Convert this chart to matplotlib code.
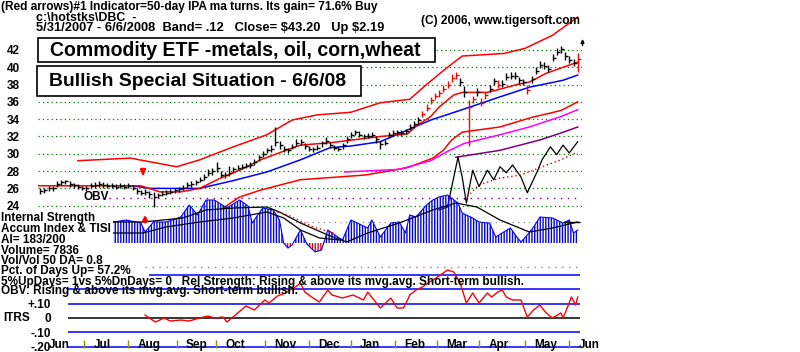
import numpy as np
import pandas as pd
import matplotlib
matplotlib.use('Agg')
import matplotlib.pyplot as plt
from matplotlib.patches import Rectangle

plt.rcParams['hatch.linewidth'] = 1.0
FONT = 'Liberation Sans'

# trading calendar 5/31/2007 - 6/6/2008
holidays = ['2007-07-04', '2007-09-03', '2007-11-22', '2007-12-25', '2008-01-01',
            '2008-01-21', '2008-02-18', '2008-03-21', '2008-05-26']
dates = pd.bdate_range('2007-05-31', '2008-06-06', freq='C', holidays=holidays)

# daily bars, every 2nd trading day (index 1,3,...,257)
bar_day = np.arange(1, 258, 2)
close = [25.7, 25.8, 26.0, 26.0, 26.5, 26.7, 26.8, 26.5, 26.4, 26.2,
         26.1, 26.0, 26.3, 26.4, 26.5, 26.4, 26.3, 26.3, 26.2, 26.3,
         26.2, 26.3, 26.1, 25.7, 25.5, 25.6, 25.3, 25.0, 25.2, 25.4,
         25.5, 25.6, 25.8, 25.9, 26.1, 26.4, 26.5, 26.7, 27.0, 27.3,
         27.8, 28.0, 28.3, 27.6, 27.5, 27.8, 28.2, 28.4, 28.5, 28.6,
         28.7, 29.0, 29.6, 30.0, 30.4, 30.6, 31.4, 31.0, 30.5, 30.4,
         30.8, 31.3, 31.4, 30.9, 30.6, 30.5, 30.7, 31.2, 31.5, 31.0,
         30.7, 30.6, 31.0, 31.7, 32.2, 32.5, 32.2, 32.0, 32.1, 32.2,
         31.7, 31.1, 31.3, 32.2, 32.4, 32.5, 32.4, 32.6, 33.1, 33.4,
         33.9, 34.6, 35.3, 36.2, 36.7, 37.0, 37.5, 38.0, 38.8, 39.1,
         38.3, 37.2, 35.4, 36.3, 37.2, 35.9, 36.8, 37.5, 38.4, 38.0,
         38.1, 38.9, 39.0, 39.0, 38.5, 38.3, 37.4, 38.6, 39.6, 40.3,
         40.2, 39.8, 41.1, 41.8, 42.1, 41.3, 40.9, 40.5, 41.0]
high = [26.0, 26.1, 26.3, 26.3, 26.8, 27.0, 27.0, 26.8, 26.6, 26.5,
        26.3, 26.3, 26.6, 26.7, 26.8, 26.7, 26.6, 26.6, 26.5, 26.6,
        26.5, 26.6, 26.4, 26.1, 25.8, 25.9, 25.7, 25.6, 25.5, 25.7,
        25.8, 25.9, 26.1, 26.2, 26.4, 26.7, 26.8, 27.0, 27.3, 27.7,
        28.2, 28.4, 29.1, 28.0, 27.9, 28.6, 28.5, 28.7, 28.8, 28.9,
        29.0, 29.4, 29.9, 30.3, 30.7, 31.0, 33.1, 31.5, 30.9, 30.7,
        31.1, 31.7, 31.7, 31.3, 30.9, 30.8, 31.0, 31.5, 31.9, 31.4,
        31.0, 30.9, 31.3, 32.0, 32.5, 32.8, 32.6, 32.3, 32.4, 32.5,
        32.0, 31.5, 31.6, 32.5, 32.7, 32.8, 32.7, 32.9, 33.4, 33.8,
        34.3, 35.0, 35.8, 36.6, 37.0, 37.4, 37.9, 38.4, 39.2, 39.5,
        38.8, 37.8, 36.2, 36.7, 37.6, 36.4, 37.2, 37.9, 38.8, 38.5,
        38.5, 39.3, 39.4, 39.4, 38.9, 38.7, 38.0, 39.0, 40.0, 40.7,
        40.6, 40.3, 41.5, 42.2, 42.5, 41.8, 41.3, 41.0, 41.6]
low = [25.4, 25.5, 25.7, 25.7, 26.2, 26.4, 26.5, 26.2, 26.1, 25.9,
       25.8, 25.7, 26.0, 26.1, 26.2, 26.1, 26.0, 26.0, 25.9, 26.0,
       25.9, 26.0, 25.8, 25.3, 25.2, 25.2, 24.9, 23.9, 24.9, 25.1,
       25.2, 25.3, 25.5, 25.6, 25.8, 26.1, 26.2, 26.4, 26.7, 27.0,
       27.4, 27.6, 27.9, 27.3, 27.2, 27.4, 27.9, 28.1, 28.2, 28.3,
       28.4, 28.7, 29.2, 29.6, 30.1, 30.2, 30.9, 30.6, 30.2, 30.1,
       30.5, 30.9, 31.0, 30.5, 30.3, 30.2, 30.4, 30.8, 31.1, 30.7,
       30.4, 30.3, 30.6, 31.3, 31.8, 32.2, 31.9, 31.7, 31.8, 31.9,
       31.3, 30.6, 31.0, 31.8, 32.1, 32.2, 32.1, 32.3, 32.7, 33.0,
       33.5, 34.2, 34.9, 35.7, 36.3, 36.6, 37.1, 37.6, 38.3, 38.7,
       37.8, 36.6, 30.9, 35.9, 36.7, 35.5, 36.3, 37.1, 38.0, 37.6,
       37.7, 38.5, 38.6, 38.6, 38.1, 37.9, 36.9, 38.2, 39.2, 39.9,
       39.8, 39.4, 40.7, 41.4, 41.7, 40.9, 40.5, 40.1, 39.5]
red_bars = [91, 92, 93, 94, 95, 96, 97, 98, 99, 102, 103, 105, 106, 109, 116, 128]

# bands and moving averages (trading-day index, price)
upper_day = [19, 44, 66, 77, 93, 109, 121, 133, 149, 163, 177, 185, 195, 202, 222, 232, 245, 257]
upper = [29.2, 29.5, 28.5, 29.3, 30.8, 32.2, 33.9, 34.5, 34.8, 35.9, 36.3, 38.0, 40.0, 41.3,
         41.6, 42.2, 43.7, 45.8]
mid_day = [0, 49, 58, 68, 77, 87, 96, 106, 118, 125, 140, 163, 176, 180, 187, 191, 198, 202,
           214, 219, 228, 234, 242, 250, 257]
mid = [26.3, 26.3, 25.6, 25.6, 26.0, 27.2, 28.1, 29.3, 30.4, 31.0, 31.3, 32.0, 32.3, 33.2,
       34.3, 35.4, 36.8, 37.1, 37.1, 37.4, 38.0, 38.3, 39.3, 40.0, 40.6]
lower_day = [88, 96, 106, 125, 156, 176, 188, 193, 197, 202, 220, 235, 249, 257]
lower = [23.7, 25.0, 25.8, 27.0, 27.55, 28.4, 29.5, 30.4, 31.6, 32.5, 33.1, 34.2, 35.0, 36.0]
ma50_day = [45, 53, 77, 93, 109, 125, 139, 149, 163, 187, 202, 219, 234, 250, 257]
ma50 = [26.3, 26.0, 26.0, 26.9, 27.9, 29.3, 30.7, 30.9, 31.4, 33.9, 35.1, 36.5, 37.7, 38.5, 39.1]
pink_day = [146, 172, 187, 196, 203, 220, 234, 249, 257]
pink = [27.9, 28.2, 29.2, 30.4, 31.2, 32.2, 33.1, 34.3, 35.1]
purple_day = [199, 220, 239, 249, 257]
purple = [29.6, 30.4, 31.6, 32.4, 33.1]
obv_day = [191, 195, 198, 200, 202, 204, 207, 210, 214, 217, 220, 223, 226, 230, 233, 238,
           240, 244, 247, 250, 253, 257]
obv = [23.5, 23.85, 27.3, 29.6, 27.3, 24.3, 28.1, 26.2, 28.1, 27.0, 28.5, 27.8, 28.7, 27.3,
       25.5, 28.1, 29.3, 30.8, 29.9, 31.0, 30.1, 31.4]
obv_ma_day = [203, 210, 220, 230, 239, 249, 257]
obv_ma = [24.7, 26.4, 27.2, 27.55, 28.4, 29.3, 30.2]

# accumulation index / TISI
ai_day = [36, 42, 49, 51, 55, 61, 68, 72, 76, 80, 84, 90, 96, 100, 102, 107, 112, 115, 117, 119,
          121, 125, 128, 132, 135, 138, 140, 145, 149, 152, 157, 159, 163, 168, 172, 175, 177, 180,
          185, 188, 191, 195, 200, 202, 207, 210, 215, 218, 221, 225, 228, 230, 233, 236, 239, 245,
          250, 253, 255, 257]
ai = [21, 23, 20, 11, 21, 21, 26, 38, 28, 43, 43, 35, 43, 37, 20, 35, 33, 23, 0, -5,
      -2, 13, -1, -9, -7, 13, 10, 3, 23, 20, 15, 23, 6, 20, 21, 10, 28, 26, 38, 43,
      46, 48, 40, 30, 25, 21, 20, 6, 10, 15, 6, 1, 8, 16, 26, 25, 20, 23, 10, 13]
ai_ma_day = [36, 50, 69, 80, 93, 109, 115, 125, 138, 147, 157, 172, 188, 199, 209, 220, 234, 245, 255, 257]
ai_ma = [21, 21, 25, 33, 35, 36, 31, 20, 8, 1, 10, 20, 33, 40, 36, 23, 11, 15, 20, 21]
tisi_day = [36, 50, 61, 77, 93, 109, 117, 125, 134, 144]
tisi = [10, 10, 16, 21, 25, 31, 25, 13, 5, 3]
ai_red_day = [112, 119, 131, 141]
ai_red = [32, 28, 16, 10]

# ITRS
itrs_day = [51, 53, 56, 60, 63, 68, 72, 77, 81, 84, 88, 90, 94, 99, 101, 103, 106, 108, 110, 114,
            118, 120, 122, 125, 127, 131, 134, 138, 140, 145, 150, 155, 157, 160, 163, 168, 171, 174,
            176, 177, 180, 183, 188, 193, 195, 198, 201, 204, 207, 210, 214, 216, 219, 221, 223, 226,
            230, 233, 236, 239, 242, 245, 249, 250, 252, 254, 256, 257]
itrs = [0.021, 0.0, -0.028, 0.0, -0.021, -0.014, -0.021, 0.0, 0.014, 0.0, 0.007, -0.028, 0.021,
        0.084, 0.07, 0.056, 0.098, 0.126, 0.105, 0.154, 0.175, 0.196, 0.21, 0.245, 0.182, 0.14,
        0.112, 0.196, 0.161, 0.14, 0.161, 0.126, 0.182, 0.126, 0.07, 0.14, 0.07, 0.07, 0.126,
        0.161, 0.196, 0.217, 0.266, 0.315, 0.336, 0.322, 0.245, 0.105, 0.175, 0.105, 0.175, 0.147,
        0.182, 0.196, 0.147, 0.126, 0.126, 0.007, 0.056, 0.091, 0.035, 0.0, 0.035, 0.0, 0.07,
        0.147, 0.091, 0.147]
month_names = ['Jun', 'Jul', 'Aug', 'Sep', 'Oct', 'Nov', 'Dec', 'Jan', 'Feb', 'Mar', 'Apr', 'May', 'Jun']

W, H = 800, 352
PXD = 2.1  # pixels per trading day
fig = plt.figure(figsize=(8, 3.52), dpi=100)


def box(x0, y0, x1, y1):
    return [x0 / W, 1 - y1 / H, (x1 - x0) / W, (y1 - y0) / H]


def bare(ax):
    ax.set_facecolor('none')
    for s in ax.spines.values():
        s.set_visible(False)
    ax.set_xticks([])


ax_p = fig.add_axes(box(38, 0, 582, 212))
ax_ai = fig.add_axes(box(38, 193, 582, 255))
ax_it = fig.add_axes(box(68, 262, 582, 352))
for a in (ax_p, ax_ai):
    bare(a)
    a.set_xlim(0, 544 / PXD)
bare(ax_it)
ax_it.set_xlim(30 / PXD, 544 / PXD)
ax_ai.set_yticks([])

# price panel
ax_p.set_ylim(23.27, 47.78)
ax_p.set_yticks(range(24, 43, 2))
ax_p.set_yticklabels([str(v) for v in range(24, 43, 2)], fontsize=8.5,
                     fontweight='bold', family=FONT)
ax_p.tick_params(axis='y', length=0, pad=13)
ax_p.yaxis.grid(True, color='#008000', linestyle=(0, (1, 2.5)), linewidth=0.9)
ax_p.set_axisbelow(True)

ax_p.plot(upper_day, upper, color='red', lw=1.1)
ax_p.plot(lower_day, lower, color='red', lw=1.1)
ax_p.plot(pink_day, pink, color='#ff00ff', lw=1.1)
ax_p.plot(purple_day, purple, color='#800080', lw=1.1)
ax_p.plot(ma50_day, ma50, color='blue', lw=1.1)
ax_p.plot(mid_day, mid, color='red', lw=1.1)
ax_p.plot(obv_day, obv, color='black', lw=0.9)
ax_p.plot(obv_ma_day, obv_ma, color='#cc0000', lw=1.0, linestyle=(0, (1, 2)))

cols = ['red' if k in red_bars else 'black' for k in range(len(close))]
ax_p.vlines(bar_day, low, high, colors=cols, lw=1.0)
for c in ('black', 'red'):
    idx = [k for k in range(len(close)) if cols[k] == c]
    ax_p.plot(bar_day[idx], np.array(close)[idx], ls='none', marker=1, ms=2.5,
              mew=1.0, color=c)

ax_p.annotate('', xy=(50, 27.15), xytext=(50, 28.15),
              arrowprops=dict(arrowstyle='-|>', color='red', lw=1.8, mutation_scale=7))
ax_p.annotate('', xy=(259.3, 43.6), xytext=(259.3, 42.2), annotation_clip=False,
              arrowprops=dict(arrowstyle='-|>', color='black', lw=1.0, mutation_scale=5))

# accumulation panel
ax_ai.set_ylim(-12, 50)
ai_a = np.array(ai, dtype=float)
ax_ai.fill_between(ai_day, 0, ai_a, where=ai_a >= 0, interpolate=True, facecolor='none',
                   edgecolor='blue', hatch='|' * 6, lw=0)
ax_ai.fill_between(ai_day, 0, ai_a, where=ai_a <= 0, interpolate=True, facecolor='none',
                   edgecolor='red', hatch='|' * 6, lw=0)
ax_ai.plot(ai_day, ai, color='blue', lw=0.8)
ax_ai.hlines(45, 34, 258, colors='#800080', linestyles=(0, (1, 4)), lw=1.0)
ax_ai.hlines(21, 120, 258, colors='gray', linestyles=(0, (1, 4)), lw=0.8)
ax_ai.hlines(21, 250, 258, colors='black', lw=1.0)
ax_ai.plot(ai_ma_day, ai_ma, color='black', lw=0.9)
ax_ai.plot(tisi_day, tisi, color='black', lw=0.9)
ax_ai.plot(ai_red_day, ai_red, color='red', lw=1.0, linestyle=(0, (1, 2)))
ax_ai.annotate('', xy=(51, 31), xytext=(51, 18),
               arrowprops=dict(arrowstyle='-|>', color='red', lw=1.8, mutation_scale=7))

# ITRS panel
ax_it.set_ylim(-0.238, 0.392)
ax_it.set_yticks([0.1, 0, -0.1, -0.2])
ax_it.set_yticklabels(['+.10', '0', '-.10', '-.20'], fontsize=8.5, fontweight='bold', family=FONT)
ax_it.tick_params(axis='y', length=0, pad=12)
ax_it.hlines([0.2, 0.1, -0.1, -0.2], 14.3, 258, colors='blue', lw=1.1)
ax_it.hlines(0.3, 53, 258, colors='blue', lw=1.1)
ax_it.hlines(0, 14.3, 258, colors='black', lw=1.1)
ax_it.hlines(0.357, 51, 258, colors='#b070b0', linestyles=(0, (1, 4)), lw=1.0)
ax_it.plot(itrs_day, itrs, color='red', lw=1.0)

# first index of each new month (Jun 2007 ... Jun 2008)
month_start = [i for i in range(1, len(dates)) if dates[i].month != dates[i - 1].month]
ax_it.vlines(month_start[1:], -0.21, -0.154, colors='#909000', lw=1.0)
for name, m in zip(month_names, month_start):
    ax_it.text(m + 4.4, -0.19, name, ha='left', va='center', fontsize=8.5, fontweight='bold',
               family=FONT, clip_on=False)

renderer = fig.canvas.get_renderer()


def label(s, x, y, w=None, size=8.0, z=6):
    t = fig.text(x / W, 1 - y / H, s, ha='left', va='center', fontsize=size, fontweight='bold',
                 family=FONT, color='black', zorder=z)
    if w:
        bb = t.get_window_extent(renderer)
        t.set_fontsize(size * w / bb.width)
    return t


label('(Red arrows)#1 Indicator=50-day IPA ma turns. Its gain= 71.6% Buy', 1, 7, 382)
label('c:\\hotstks\\DBC  -', 36, 18, 101)
label('5/31/2007 - 6/6/2008  Band= .12   Close= \\$43.20   Up \\$2.19', 36, 28, 351)
label('(C) 2006, www.tigersoft.com', 421, 21, 160)

long_t = label('5%UpDays= 1vs 5%DnDays= 0   Rel Strength: Rising & above its mvg.avg. '
               'Short-term bullish.', 1, 282, 527)
fs = long_t.get_fontsize()
label('Internal Strength', 1, 218, size=fs)
label('Accum Index & TISI', 1, 229, size=fs)
label('AI= 183/200', 1, 240, size=fs)
label('Volume= 7836', 1, 251, size=fs)
label('Vol/Vol 50 DA= 0.8', 1, 261, size=fs)
label('Pct. of Days Up= 57.2%', 1, 271, size=fs)
label('OBV: Rising & above its mvg.avg. Short-term bullish.', 1, 291, size=fs)
label('ITRS', 3, 318, size=fs)
label('OBV', 84, 197, size=fs)

for (x0, y0, x1, y1) in [(38, 38, 435, 62), (37, 66, 361, 96)]:
    fig.add_artist(Rectangle((x0 / W, 1 - y1 / H), (x1 - x0) / W, (y1 - y0) / H,
                             transform=fig.transFigure, facecolor='white',
                             edgecolor='black', lw=1.2, zorder=5))
label('Commodity ETF -metals, oil, corn,wheat', 50, 50, 373)
label('Bullish Special Situation - 6/6/08', 49, 81, 298)

fig.savefig('out.png', dpi=100)
